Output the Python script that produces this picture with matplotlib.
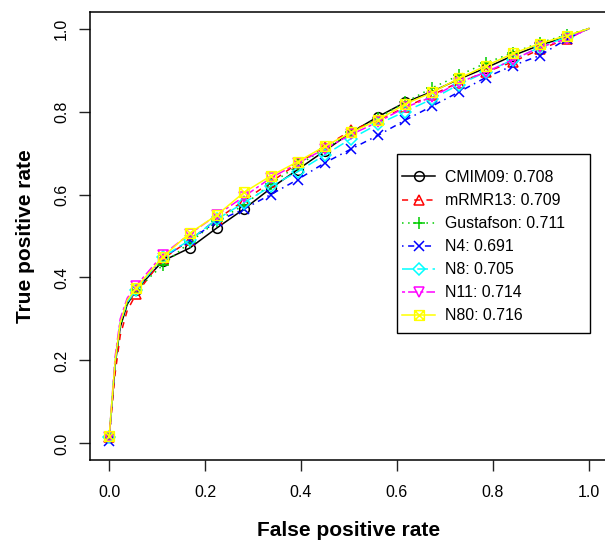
import matplotlib
matplotlib.use("Agg")
import matplotlib.pyplot as plt
from matplotlib.path import Path
from matplotlib.patches import Rectangle

plt.rcParams['font.family'] = ['Liberation Sans', 'DejaVu Sans']

# False positive rate (shared grid)
fpr = [0.0, 0.0125, 0.023, 0.0375,
       0.056, 0.112, 0.168, 0.224, 0.281, 0.337, 0.393, 0.449, 0.505,
       0.561, 0.617, 0.673, 0.729, 0.785, 0.842, 0.898, 0.954, 1.0]

names = ["CMIM09", "mRMR13", "Gustafson", "N4", "N8", "N11", "N80"]
aucs = [0.708, 0.709, 0.711, 0.691, 0.705, 0.714, 0.716]

tpr_cmim09 = [0.015, 0.19, 0.28, 0.335, 0.37, 0.44, 0.471, 0.519, 0.565, 0.615, 0.66, 0.705,
              0.75, 0.788, 0.822, 0.848, 0.878, 0.905, 0.935, 0.96, 0.98, 1.0]
tpr_mrmr13 = [0.015, 0.17, 0.26, 0.32, 0.36, 0.445, 0.49, 0.54, 0.585, 0.63, 0.675, 0.715,
              0.755, 0.78, 0.81, 0.84, 0.87, 0.895, 0.92, 0.95, 0.975, 1.0]
tpr_gustafson = [0.015, 0.19, 0.28, 0.335, 0.37, 0.43, 0.485, 0.535, 0.575, 0.625, 0.67, 0.71,
                 0.75, 0.785, 0.822, 0.857, 0.887, 0.917, 0.942, 0.966, 0.985, 1.0]
tpr_n4 = [0.005, 0.2, 0.29, 0.34, 0.372, 0.447, 0.49, 0.535, 0.565, 0.60, 0.636, 0.676,
          0.71, 0.743, 0.779, 0.813, 0.847, 0.882, 0.911, 0.935, 0.975, 1.0]
tpr_n8 = [0.015, 0.2, 0.29, 0.34, 0.37, 0.45, 0.49, 0.54, 0.58, 0.62, 0.655, 0.695,
          0.735, 0.77, 0.80, 0.83, 0.865, 0.895, 0.925, 0.955, 0.98, 1.0]
tpr_n11 = [0.015, 0.21, 0.30, 0.35, 0.38, 0.455, 0.505, 0.55, 0.595, 0.64, 0.675, 0.71,
           0.745, 0.775, 0.81, 0.835, 0.87, 0.895, 0.925, 0.955, 0.975, 1.0]
tpr_n80 = [0.017, 0.20, 0.29, 0.345, 0.375, 0.45, 0.507, 0.55, 0.605, 0.645, 0.679, 0.716,
           0.75, 0.78, 0.818, 0.846, 0.88, 0.91, 0.94, 0.964, 0.983, 1.0]

series = [tpr_cmim09, tpr_mrmr13, tpr_gustafson, tpr_n4, tpr_n8, tpr_n11, tpr_n80]
colors = ["#000000", "#FF0000", "#00CD00", "#0000FF", "#00FFFF", "#FF00FF", "#FFFF00"]
styles = ["-", (0, (4, 4)), (0, (1, 3)), (0, (1, 3, 4, 3)), (0, (7, 3)), (0, (2, 2, 6, 2)), "-"]

sqx = Path([(-1, -1), (1, -1), (1, 1), (-1, 1), (-1, -1),
            (-1, -1), (1, 1), (-1, 1), (1, -1)],
           [Path.MOVETO, Path.LINETO, Path.LINETO, Path.LINETO, Path.CLOSEPOLY,
            Path.MOVETO, Path.LINETO, Path.MOVETO, Path.LINETO])
markers = ["o", "^", "+", "x", "D", "v", sqx]
msizes = [7, 7.5, 9, 7.5, 6, 7.5, 7]

fig = plt.figure(figsize=(6.05, 5.43), dpi=100)
ax = fig.add_axes([90 / 605, (543 - 460) / 543, 518 / 605, 448 / 543])

mark_idx = [0] + list(range(4, 21))
for y, name, auc, c, ls, m, ms in zip(series, names, aucs, colors, styles, markers, msizes):
    ax.plot(fpr, y, color=c, linestyle=ls, lw=1.1, marker=m, markersize=ms,
            markerfacecolor='none', markeredgecolor=c, markeredgewidth=1.1,
            markevery=mark_idx, label=f"{name}: {auc:.3f}")

ax.set_xlim(-0.04, 1.04)
ax.set_ylim(-0.04, 1.04)
ticks = [0.0, 0.2, 0.4, 0.6, 0.8, 1.0]
ax.set_xticks(ticks)
ax.set_yticks(ticks)
ax.set_xticklabels([f"{t:.1f}" for t in ticks])
ax.set_yticklabels([f"{t:.1f}" for t in ticks], rotation=90, va='center')
ax.tick_params(axis='both', labelsize=11.5, length=8, width=1, color='#222222')
ax.tick_params(axis='x', pad=10)
ax.tick_params(axis='y', pad=7)
for s in ax.spines.values():
    s.set_linewidth(1.1)

ax.set_xlabel("False positive rate", fontsize=15, fontweight='bold', labelpad=15)
ax.set_ylabel("True positive rate", fontsize=15, fontweight='bold', labelpad=14)

# legend box drawn as a plain rectangle in figure coordinates (under the legend)
ax.add_patch(Rectangle((397 / 605, 1 - 333 / 543), 193 / 605, 179 / 543,
                       transform=fig.transFigure, facecolor='white',
                       edgecolor='black', lw=1.0, zorder=4, clip_on=False))
leg = ax.legend(loc='upper left', bbox_to_anchor=(402 / 605, 1 - 170 / 543),
                bbox_transform=fig.transFigure, fontsize=11.4, frameon=False,
                handlelength=2.1, handletextpad=0.6, labelspacing=0.51,
                borderpad=0, borderaxespad=0)
leg.set_zorder(6)

fig.savefig("out.png", dpi=100)
